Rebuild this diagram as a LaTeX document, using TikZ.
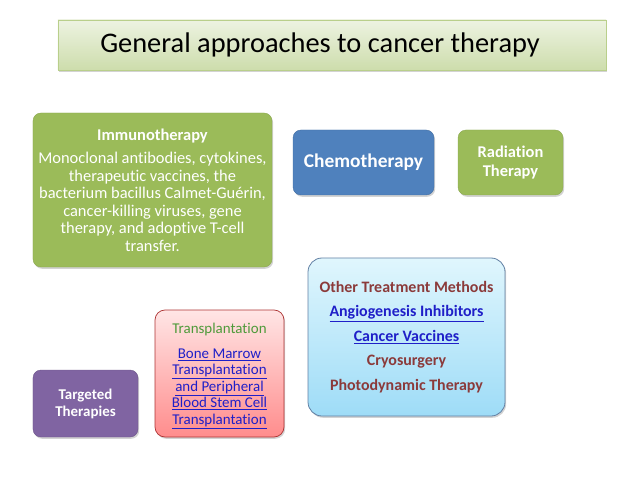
\documentclass[tikz,border=0pt]{standalone}
\usepackage{fontspec}
\setmainfont[Ligatures=NoCommon]{Carlito}
\usetikzlibrary{shadows}
\definecolor{ogreen}{HTML}{9BBB59}
\definecolor{oblue}{HTML}{4F81BD}
\definecolor{opurple}{HTML}{8064A2}
\definecolor{darkred}{HTML}{8B3A3A}
\definecolor{linkblue}{HTML}{1F1FC8}
\definecolor{tgreen}{HTML}{4E9A3A}
\definecolor{cyantop}{HTML}{E0F6FD}
\definecolor{cyanbot}{HTML}{9EDCF7}
\tikzset{
  x=1bp, y=1bp,
  shad/.style={drop shadow={opacity=0.35, shadow xshift=1.2bp, shadow yshift=-1.8bp}},
  solidbox/.style={shad, rounded corners=8bp, text=white, align=center, inner sep=0pt},
  titlebox/.style={shad, draw=ogreen!70, line width=0.6bp, top color=ogreen!18, bottom color=ogreen!50, inner sep=0pt},
}
\begin{document}
\begin{tikzpicture}
\useasboundingbox (0,0) rectangle (638,-479);
% title
\node[titlebox, minimum width=548bp, minimum height=50bp] (title) at (332,-45) {};
\node[font=\fontsize{28.5}{32}\selectfont] (titletext) at (320,-45) {General approaches to cancer therapy};
% immunotherapy
\node[solidbox, fill=ogreen, draw=ogreen!90!black, minimum width=239bp, minimum height=154bp] (immuno) at (152.5,-190) {};
\node[text=white, align=center, font=\fontsize{16.5}{17.6}\selectfont] (immunotext) at (152.5,-190) {{\bfseries Immunotherapy}\\[6bp]Monoclonal antibodies, cytokines,\\therapeutic vaccines, the\\bacterium bacillus Calmet-Guérin,\\cancer-killing viruses, gene\\therapy, and adoptive T-cell\\transfer.};
% chemo
\node[solidbox, fill=oblue, draw=oblue!85!black, minimum width=141bp, minimum height=65bp, font=\bfseries\fontsize{19.5}{22}\selectfont] (chemo) at (363.5,-162.5) {Chemotherapy};
% radiation
\node[solidbox, fill=ogreen, draw=ogreen!90!black, minimum width=105bp, minimum height=65bp, font=\bfseries\fontsize{16.5}{19}\selectfont] (radiation) at (510.5,-162.5) {Radiation\\Therapy};
% other
\node[shad, rounded corners=14bp, draw=oblue!60!gray, line width=0.8bp, top color=cyantop, bottom color=cyanbot, minimum width=197bp, minimum height=158bp] (other) at (406.5,-337) {};
\node[align=center, font=\bfseries\fontsize{16}{24.5}\selectfont, text=darkred] (othertext) at (406.5,-337) {Other Treatment Methods\\\textcolor{linkblue}{\underline{Angiogenesis Inhibitors}}\\\textcolor{linkblue}{\underline{Cancer Vaccines}}\\Cryosurgery\\Photodynamic Therapy};
% transplantation
\node[shad, rounded corners=10bp, draw=red!60!black!80, line width=0.7bp, top color=red!10, bottom color=red!45, minimum width=129bp, minimum height=127bp] (trans) at (219.5,-373.5) {};
\node[align=center, font=\fontsize{15}{16.5}\selectfont, text=linkblue] (transtext) at (219.5,-376) {\textcolor{tgreen}{Transplantation}\\[8bp]\underline{Bone Marrow}\\\underline{Transplantation}\\\underline{and Peripheral}\\\underline{Blood Stem Cell}\\\underline{Transplantation}};
% targeted
\node[solidbox, fill=opurple, draw=opurple!85!black, minimum width=105bp, minimum height=67bp, font=\bfseries\fontsize{15}{17}\selectfont] (targeted) at (85.5,-403.5) {Targeted\\Therapies};
\end{tikzpicture}
\end{document}
